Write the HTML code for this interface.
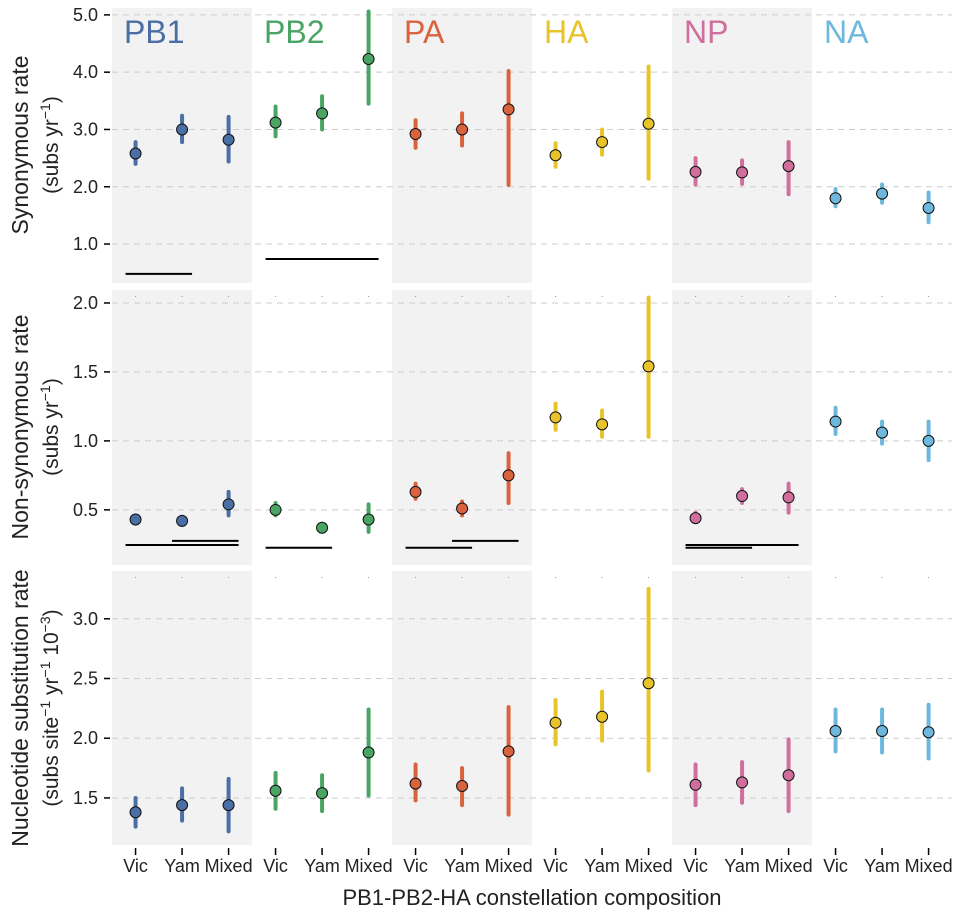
<!DOCTYPE html>
<html><head><meta charset="utf-8"><style>
body{margin:0;background:#fff;}
svg text{font-family:"Liberation Sans",sans-serif;}
</style></head><body>
<svg id="chart" width="956" height="918" xmlns="http://www.w3.org/2000/svg"></svg>
<script>
const segments=["PB1","PB2","PA","HA","NP","NA"];
const colors=["#4a6fa5","#4aa565","#d9623f","#e8c42a","#d06f9d","#6db8dc"];
const categories=["Vic","Yam","Mixed"];
const synRate=[
 [[2.58,2.4,2.78],[3.0,2.78,3.24],[2.82,2.44,3.22]],
 [[3.12,2.88,3.4],[3.28,3.0,3.58],[4.23,3.45,5.06]],
 [[2.92,2.68,3.16],[3.0,2.72,3.28],[3.35,2.03,4.02]],
 [[2.55,2.35,2.76],[2.78,2.56,3.0],[3.1,2.14,4.1]],
 [[2.26,2.04,2.5],[2.25,2.05,2.46],[2.36,1.87,2.78]],
 [[1.8,1.66,1.96],[1.88,1.72,2.04],[1.63,1.38,1.9]]];
const nonsynRate=[
 [[.43,.40,.46],[.42,.39,.45],[.54,.46,.63]],
 [[.50,.46,.55],[.37,.34,.39],[.43,.34,.54]],
 [[.63,.58,.69],[.51,.46,.56],[.75,.55,.91]],
 [[1.17,1.08,1.27],[1.12,1.03,1.22],[1.54,1.03,2.04]],
 [[.44,.41,.48],[.60,.55,.65],[.59,.48,.69]],
 [[1.14,1.05,1.24],[1.06,.98,1.14],[1.0,.86,1.14]]];
const subRate=[
 [[1.38,1.26,1.5],[1.44,1.31,1.58],[1.44,1.22,1.66]],
 [[1.56,1.41,1.71],[1.54,1.39,1.69],[1.88,1.52,2.24]],
 [[1.62,1.48,1.78],[1.6,1.44,1.75],[1.89,1.36,2.26]],
 [[2.13,1.95,2.32],[2.18,1.98,2.39],[2.46,1.73,3.25]],
 [[1.61,1.44,1.78],[1.63,1.46,1.8],[1.69,1.39,1.99]],
 [[2.06,1.89,2.24],[2.06,1.88,2.24],[2.05,1.83,2.28]]];
const ticks0=[1.0,2.0,3.0,4.0,5.0];
const ticks1=[0.5,1.0,1.5,2.0];
const ticks2=[1.5,2.0,2.5,3.0];
// significance bars: [row, segment, fromCat, toCat, yValue]
const sigBars=[[0,0,0,1,0.48],[0,1,0,2,0.74],
 [1,0,0,2,0.245],[1,0,1,2,0.275],[1,1,0,1,0.225],[1,2,0,1,0.225],[1,2,1,2,0.275],[1,4,0,1,0.225],[1,4,0,2,0.245]];

const NS="http://www.w3.org/2000/svg";
const svg=document.getElementById('chart');
function mk(tag,attrs,parent){const e=document.createElementNS(NS,tag);for(const k in attrs)e.setAttribute(k,attrs[k]);(parent||svg).appendChild(e);return e;}
const colX0=112,colW=140;
const rows=[
 {top:8,bot:283,min:0.32,max:5.12,data:synRate,ticks:ticks0,name:'synonymous'},
 {top:290,bot:565,min:0.10,max:2.094,data:nonsynRate,ticks:ticks1,name:'nonsynonymous'},
 {top:571,bot:845,min:1.106,max:3.40,data:subRate,ticks:ticks2,name:'substitution'}];
function xPos(s,c){return colX0+s*colW+(c+0.5)*(colW/3.01)+0.3;}
function yPos(r,v){const R=rows[r];return R.bot-(v-R.min)/(R.max-R.min)*(R.bot-R.top);}
rows.forEach((R,r)=>{
 const g=mk('g',{});
 
 
 segments.forEach((s,i)=>{if(i%2===0){const b=mk('rect',{x:colX0+i*colW,y:R.top,width:colW,height:R.bot-R.top,fill:'#f2f2f2'},g);}});
 R.ticks.forEach(t=>{const y=yPos(r,t);
  const l=mk('line',{x1:colX0,x2:952,y1:y,y2:y,stroke:'#cccccc','stroke-dasharray':'6,5','stroke-width':1},g);
  const tk=mk('line',{x1:104,x2:110,y1:y,y2:y,stroke:'#000','stroke-width':1.5},g);
  const tx=mk('text',{x:98,y:y+6,'text-anchor':'end','font-size':18,fill:'#222'},g);tx.textContent=t.toFixed(1);});
 if(r>0){segments.forEach((s,i)=>categories.forEach((c,j)=>{const d=mk('rect',{x:xPos(i,j)-0.5,y:R.top+6,width:1,height:1,fill:'#999'},g);}));}
 R.data.forEach((seg,i)=>seg.forEach((p,j)=>{const x=xPos(i,j);
  const e=mk('line',{x1:x,x2:x,y1:yPos(r,p[1]),y2:yPos(r,p[2]),stroke:colors[i],'stroke-width':4,'stroke-linecap':'round'},g);
  const c=mk('circle',{cx:x,cy:yPos(r,p[0]),r:5.5,fill:colors[i],stroke:'#111','stroke-width':1},g);}));
});
sigBars.forEach(b=>{const y=yPos(b[0],b[4]);const x1=xPos(b[1],b[2])-10,x2=xPos(b[1],b[3])+10;
 const l=mk('line',{x1:x1,x2:x2,y1:y,y2:y,stroke:'#000','stroke-width':2});});
segments.forEach((s,i)=>{const t=mk('text',{x:colX0+i*colW+12,y:43,'font-size':32,fill:colors[i]});t.textContent=s;
 categories.forEach((c,j)=>{const x=xPos(i,j);
  const tk=mk('line',{x1:x,x2:x,y1:848,y2:855,stroke:'#000','stroke-width':1.5});
  const tx=mk('text',{x:x,y:872,'text-anchor':'middle','font-size':18,fill:'#222'});tx.textContent=c;});});
const xt=mk('text',{x:532,y:905,'text-anchor':'middle','font-size':22,fill:'#222'});xt.textContent='PB1-PB2-HA constellation composition';
function ytitle(cy,l1,l2html,name){const g=mk('g',{transform:'translate(0,'+cy+') rotate(-90)'});
 const a=mk('text',{x:0,y:28,'text-anchor':'middle','font-size':23,fill:'#222'},g);a.textContent=l1;
 const b=mk('text',{x:0,y:58,'text-anchor':'middle','font-size':21,fill:'#222'},g);b.innerHTML=l2html;}
ytitle(145,'Synonymous rate','(subs yr<tspan dy="-8" font-size="14">−1</tspan><tspan dy="8">)</tspan>','y-axis-title-synonymous');
ytitle(427,'Non-synonymous rate','(subs yr<tspan dy="-8" font-size="14">−1</tspan><tspan dy="8">)</tspan>','y-axis-title-nonsynonymous');
ytitle(708,'Nucleotide substitution rate','(subs site<tspan dy="-8" font-size="14">−1</tspan><tspan dy="8"> yr</tspan><tspan dy="-8" font-size="14">−1</tspan><tspan dy="8"> 10</tspan><tspan dy="-8" font-size="14">−3</tspan><tspan dy="8">)</tspan>','y-axis-title-substitution');
</script>
</body></html>
